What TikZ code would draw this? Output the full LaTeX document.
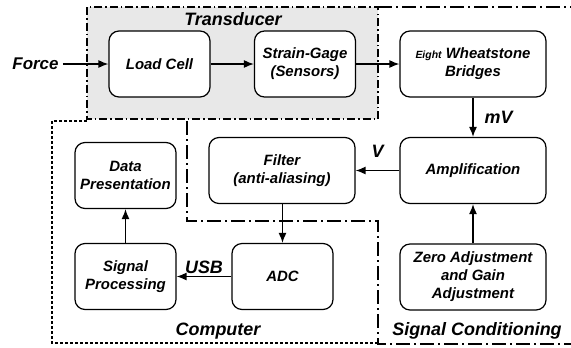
\documentclass[tikz,border=0pt]{standalone}
\usepackage{fontspec}
\setmainfont{Liberation Sans}
\usetikzlibrary{positioning, shapes, arrows.meta}

\begin{document}
\begin{tikzpicture}[x=1bp, y=-1bp,
	blk/.style={rectangle, rounded corners=10bp, draw, fill=white, line width=1.2bp, minimum width=101bp, minimum height=66bp, align=center, inner sep=2bp, font=\fontsize{15}{18}\selectfont\bfseries\itshape},
	wideblk/.style={blk, minimum width=146bp},
	flow/.style={-{Latex[length=10bp,width=8bp]}, line width=1.3bp},
	lbl/.style={inner sep=0pt, font=\fontsize{18}{20}\selectfont\bfseries\itshape},
	arealine/.style={line width=1.2bp}]
	\useasboundingbox (0,0) rectangle (571,347);
	
	% Zone: Transducer
	\fill[gray!18] (87,7) rectangle (378,119);
	\draw[arealine, dash pattern=on 8bp off 3bp on 1.5bp off 3bp] (87,7) rectangle (378,119);
	\node[lbl] (transducer) at (233,19) {Transducer};
	
	% Zone: Computer
	\draw[arealine, dash pattern=on 3bp off 2bp] (87,121) -- (52,121) -- (52,343) -- (378,343);
	\node[lbl] (computer) at (218,331) {Computer};
	
	% Zone: Signal Conditioning
	\draw[arealine, dash pattern=on 14bp off 4bp on 2bp off 4bp] (378,7) -- (575,7);
	\draw[arealine, dash pattern=on 14bp off 4bp on 2bp off 4bp] (187,121) -- (187,221) -- (378,221) -- (378,344) -- (575,344);
	\node[lbl] (sigcond) at (477,331) {Signal Conditioning};
	
	% Blocchi
	\node[blk] (load) at (159.5,64) {Load Cell};
	\node[blk] (strain) at (305,64) {Strain-Gage\\(Sensors)};
	\node[wideblk] (bridge) at (473,64) {{\fontsize{10.5}{18}\selectfont Eight} Wheatstone\\Bridges};
	\node[wideblk] (amp) at (473,170.5) {Amplification};
	\node[wideblk] (zero) at (473,277) {Zero Adjustment\\and Gain\\Adjustment};
	\node[wideblk] (filter) at (282,170.5) {Filter\\(anti-aliasing)};
	\node[blk] (adc) at (282.5,276.5) {ADC};
	\node[blk] (sigproc) at (125.5,276.5) {Signal\\Processing};
	\node[blk] (datapres) at (125.5,175.5) {Data\\Presentation};
	
	% Ingresso
	\node[lbl, font=\fontsize{17}{20}\selectfont\bfseries\itshape] (force) at (35.5,64) {Force};
	
	% Collegamenti
	\draw[flow] (force.east) ++(4bp,0) -- (load.west);
	\draw[flow] (load) -- (strain);
	\draw[flow] (strain) -- (bridge);
	\draw[flow] (bridge) -- node[lbl, right=11bp] {mV} (amp);
	\draw[flow] (amp) -- node[lbl, above=12bp] {V} (filter);
	\draw[flow] (zero) -- (amp);
	\draw[flow] (filter.south -| adc.north) -- (adc.north);
	\draw[flow] (adc) -- node[lbl, above=2bp] {USB} (sigproc);
	\draw[flow] (sigproc) -- (datapres);
\end{tikzpicture}
\end{document}
